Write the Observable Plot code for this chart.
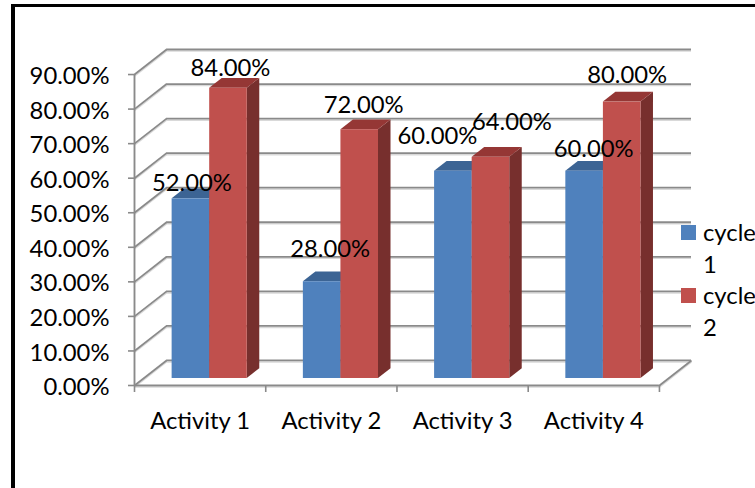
<!DOCTYPE html>
<html>
<head>
<meta charset="utf-8">
<script src="https://cdn.jsdelivr.net/npm/d3@7"></script>
<script src="https://cdn.jsdelivr.net/npm/@observablehq/plot@0.6"></script>
<style>
  html, body { margin: 0; padding: 0; background: #fff; overflow: hidden; }
  #page { position: relative; width: 755px; height: 488px; overflow: hidden; font-family: Lato, sans-serif; }
  #frame { position: absolute; left: 11px; top: 4px; width: 760px; height: 500px; border-left: 4px solid #000; border-top: 3px solid #000; }
  #chart { position: absolute; left: 0; top: 0; }
  #chart svg { display: block; }
  .key { position: absolute; left: 681px; width: 74px; font-size: 23.8px; line-height: 32px; color: #000; }
  .key i { position: absolute; left: 0; top: 9px; width: 15px; height: 15px; }
  .key span { display: block; margin-left: 22px; }
</style>
</head>
<body>
<div id="page">
  <div id="frame"></div>
  <div id="chart"></div>
</div>
<script>
const activities = ["Activity 1", "Activity 2", "Activity 3", "Activity 4"];
const cycle1 = [52, 28, 60, 60];
const cycle2 = [84, 72, 64, 80];
const yTicks = [0, 10, 20, 30, 40, 50, 60, 70, 80, 90];

// Hand-placed nudges of the value labels, in pixels: [dx, dy] per activity.
const nudges1 = [[1, -8], [8, -25], [-16, -27], [9, -14]];
const nudges2 = [[2, -12], [4, -17], [21, -27], [5, -19]];

const seriesInfo = [
  {name: "cycle 1", values: cycle1, nudges: nudges1, front: "#4f81bd", top: "#3c6494", side: "#2f4f77"},
  {name: "cycle 2", values: cycle2, nudges: nudges2, front: "#c0504d", top: "#953735", side: "#772f2d"}
];

// The oblique projection: one full unit of depth shifts a point right and up the wall.
const depthX = 32 / 131;
const depthY = 25 / 3.45;
const barWidth = 37.5 / 131;
const groupPad = 28.6 / 131;
const depthFront = 0.28;
const depthBack = 0.67;
const yMax = 90 + depthY;
const fontSize = 23.8;

const grid = "#8a8a8a";
const shadow = "#d9d9d9";
const marks = [];

// Wall gridlines, each with a pale shadow underneath.
for (const [color, dy, w] of [[shadow, 1.6, 1.4], [grid, 0, 1.8]]) {
  marks.push(
    Plot.ruleY(yTicks, {y: d => d + depthY, x1: depthX, x2: 4 + depthX, stroke: color, strokeWidth: w, dy}),
    Plot.link(yTicks, {x1: 0, y1: d => d, x2: depthX, y2: d => d + depthY, stroke: color, strokeWidth: w, dy}),
    Plot.link([0], {x1: 4, y1: 0, x2: 4 + depthX, y2: depthY, stroke: color, strokeWidth: w, dy}),
    Plot.ruleY([0], {x1: 0, x2: 4, stroke: color, strokeWidth: w, dy}),
    Plot.ruleX([0], {y1: 0, y2: 90, stroke: color, strokeWidth: w})
  );
}

// Category ticks along the floor's front edge.
marks.push(Plot.axisX({
  ticks: [0, 1, 2, 3, 4], tickFormat: () => "", tickSize: 7, stroke: grid, strokeWidth: 1.6
}));

// Each column: side face, top face, then the front.
activities.forEach((activity, i) => {
  seriesInfo.forEach((s, k) => {
    const v = s.values[i];
    const x1 = i + groupPad + k * barWidth;
    const x2 = x1 + barWidth;
    const yf0 = depthFront * depthY, yb0 = depthBack * depthY;
    const xShiftF = depthFront * depthX, xShiftB = depthBack * depthX;
    const sidePts = [
      {x: x2 + xShiftF, y1: yf0, y2: v + yf0},
      {x: x2 + xShiftB, y1: yb0, y2: v + yb0}
    ];
    const topPts = [
      {y: v + yf0, x1: x1 + xShiftF, x2: x2 + xShiftF},
      {y: v + yb0, x1: x1 + xShiftB, x2: x2 + xShiftB}
    ];
    marks.push(
      Plot.areaY(sidePts, {x: "x", y1: "y1", y2: "y2", fill: s.side}),
      Plot.areaX(topPts, {y: "y", x1: "x1", x2: "x2", fill: s.top}),
      Plot.rect([{x1: x1 + xShiftF, x2: x2 + xShiftF, y1: yf0, y2: v + yf0}], {
        x1: "x1", x2: "x2", y1: "y1", y2: "y2", fill: s.front
      })
    );
  });
});

// Value labels sit above the columns, nudged apart by hand.
activities.forEach((activity, i) => {
  seriesInfo.forEach((s, k) => {
    const v = s.values[i];
    const cx = i + groupPad + (k + 0.5) * barWidth + depthFront * depthX;
    marks.push(Plot.text([v], {
      x: () => cx,
      y: d => d + depthFront * depthY,
      text: d => d.toFixed(2) + "%",
      dx: s.nudges[i][0],
      dy: s.nudges[i][1],
      lineAnchor: "bottom",
      fill: "#000",
      fontSize
    }));
  });
});

// Value axis on the left: ticks first, then their labels set slightly lower.
marks.push(
  Plot.axisY({ticks: yTicks, tickFormat: () => "", tickSize: 6, stroke: grid, strokeWidth: 1.6, label: null}),
  Plot.axisY({
    ticks: yTicks, tickFormat: d => d.toFixed(2) + "%", tickSize: 0, tickPadding: 25,
    fill: "#000", fontSize, dy: 2, label: null
  }),
  Plot.text(activities, {
    x: (d, i) => i + 0.5,
    y: 0,
    text: d => d,
    dy: 36,
    fill: "#000",
    fontSize
  })
);

const plot = Plot.plot({
  width: 755,
  height: 488,
  marginLeft: 134,
  marginRight: 64,
  marginTop: 49,
  marginBottom: 103,
  style: {background: "transparent", fontFamily: "Lato, sans-serif", overflow: "visible"},
  x: {type: "linear", domain: [0, 4 + depthX], axis: null},
  y: {domain: [0, yMax], axis: null},
  marks
});
const page = document.getElementById("page");
document.getElementById("chart").append(plot);

// Legend, wrapping its names in the narrow space at the right edge.
seriesInfo.forEach((s, k) => {
  const key = document.createElement("div");
  key.className = "key";
  key.style.top = (216 + k * 63) + "px";
  const swatch = document.createElement("i");
  swatch.style.background = s.front;
  const label = document.createElement("span");
  label.textContent = s.name;
  key.append(swatch, label);
  page.append(key);
});
</script>
</body>
</html>
